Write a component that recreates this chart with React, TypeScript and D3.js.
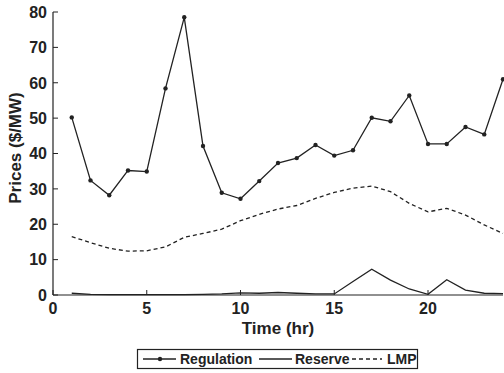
import React from 'react';
import * as d3 from 'd3';

const hours = d3.range(1, 25);
const regulation = [50.2, 32.4, 28.2, 35.2, 34.9, 58.4, 78.5, 42.1, 28.9, 27.2, 32.2, 37.3, 38.7, 42.4, 39.4, 40.9, 50.1, 49.1, 56.4, 42.7, 42.7, 47.5, 45.4, 61.0];
const reserve = [0.5, 0.2, 0.1, 0.1, 0.1, 0.1, 0.1, 0.2, 0.3, 0.6, 0.5, 0.7, 0.5, 0.3, 0.3, 3.8, 7.3, 4.2, 1.7, 0.2, 4.3, 1.4, 0.5, 0.4];
const lmp = [16.5, 14.8, 13.2, 12.4, 12.5, 13.6, 16.3, 17.4, 18.6, 21.0, 22.8, 24.3, 25.3, 27.3, 29.0, 30.2, 30.8, 29.2, 25.9, 23.5, 24.5, 22.6, 19.8, 17.4];
const xTicks = [0, 5, 10, 15, 20];
const yTicks = [0, 10, 20, 30, 40, 50, 60, 70, 80];

const W = 504;
const H = 373;
const font = 'Liberation Sans, Arial, sans-serif';
const ink = '#222';

export default function App() {
  const x = d3.scaleLinear().domain([0, 24]).range([53, 503]);
  const y = d3.scaleLinear().domain([0, 80]).range([295, 12]);

  const line = (vals: number[]) =>
    d3.line<number>()
      .x((_, i) => x(hours[i]))
      .y(d => y(d))(vals) || '';

  return (
    <svg width={W} height={H} style={{ position: 'absolute', left: 0, top: 0, background: '#fff' }}
      fontFamily={font} fontWeight="bold">
      {/* series */}
      <path d={line(lmp)} fill="none" stroke={ink} strokeWidth={1.3} strokeDasharray="4,3" />
      <path d={line(reserve)} fill="none" stroke={ink} strokeWidth={1.3} />
      <path d={line(regulation)} fill="none" stroke={ink} strokeWidth={1.3} />
      {regulation.map((d, i) => (
        <circle key={i} cx={x(hours[i])} cy={y(d)} r={2.2} fill={ink} />
      ))}

      {/* axes */}
      <line x1={x(0)} x2={x(0)} y1={y(80)} y2={y(0)} stroke={ink} strokeWidth={1.2} />
      <line x1={x(0)} x2={x(24)} y1={y(0)} y2={y(0)} stroke={ink} strokeWidth={1.2} />
      {yTicks.map(t => (
        <g key={t}>
          <line x1={x(0)} x2={x(0) + 5} y1={y(t)} y2={y(t)} stroke={ink} strokeWidth={1} />
          <text x={x(0) - 6} y={y(t)} dy="0.36em" textAnchor="end" fontSize={16} fill={ink}>{t}</text>
        </g>
      ))}
      {xTicks.map(t => (
        <g key={t}>
          <line x1={x(t)} x2={x(t)} y1={y(0)} y2={y(0) - 5} stroke={ink} strokeWidth={1} />
          <text x={x(t)} y={314} textAnchor="middle" fontSize={16} fill={ink}>{t}</text>
        </g>
      ))}
      <text x={278} y={334} textAnchor="middle" fontSize={17} fill={ink}>Time (hr)</text>
      <text transform="translate(21,148) rotate(-90)" textAnchor="middle" fontSize={17} fill={ink}>Prices ($/MW)</text>

      {/* legend */}
      <rect x={137.5} y={349.5} width={280} height={19} fill="#fff" stroke={ink} strokeWidth={1.2} />
      <line x1={143} x2={176} y1={359} y2={359} stroke={ink} strokeWidth={1.3} />
      <circle cx={160} cy={359} r={2.2} fill={ink} />
      <text x={180} y={364} fontSize={14} fill={ink}>Regulation</text>
      <line x1={259} x2={292} y1={359} y2={359} stroke={ink} strokeWidth={1.3} />
      <text x={295} y={364} fontSize={14} fill={ink}>Reserve</text>
      <line x1={352} x2={382} y1={359} y2={359} stroke={ink} strokeWidth={1.3} strokeDasharray="4,3" />
      <text x={387} y={364} fontSize={14} fill={ink}>LMP</text>
    </svg>
  );
}
